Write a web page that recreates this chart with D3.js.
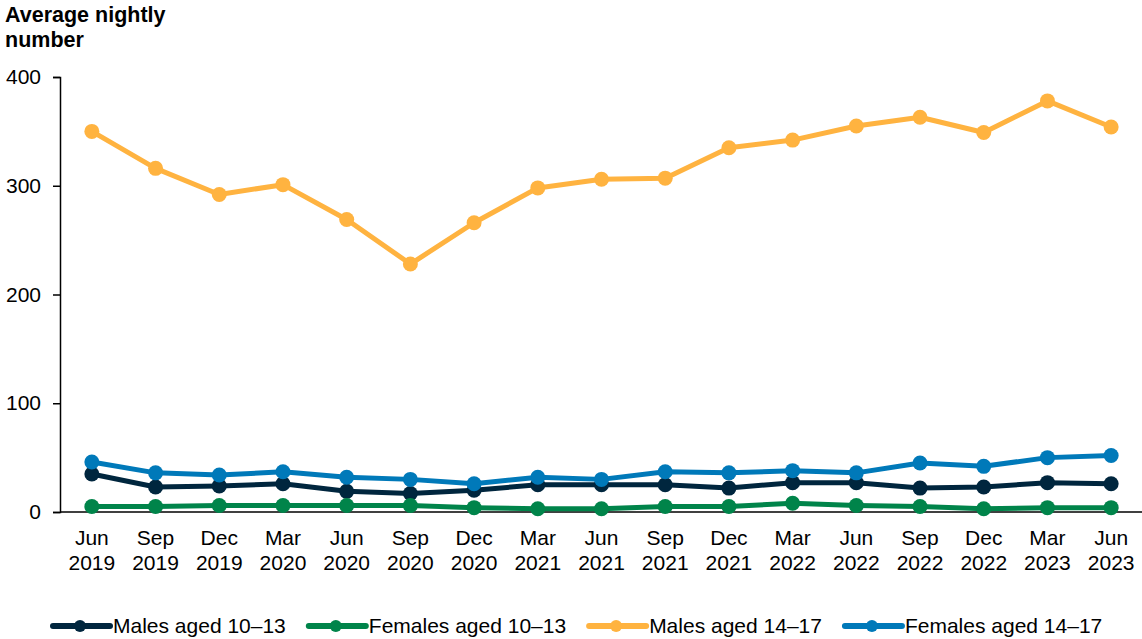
<!DOCTYPE html>
<html>
<head>
<meta charset="utf-8">
<script src="https://cdn.jsdelivr.net/npm/d3@7"></script>
<style>
  body { margin: 0; background: #fff; }
  svg { display: block; font-family: "Liberation Sans", Arial, sans-serif; }
</style>
</head>
<body>
<div id="chart"></div>
<script>
// ---------------- data ----------------
const quarters = ["Jun", "Sep", "Dec", "Mar", "Jun", "Sep", "Dec", "Mar", "Jun", "Sep", "Dec", "Mar", "Jun", "Sep", "Dec", "Mar", "Jun"];
const years = ["2019", "2019", "2019", "2020", "2020", "2020", "2020", "2021", "2021", "2021", "2021", "2022", "2022", "2022", "2022", "2023", "2023"];

const males1013   = [35, 23, 24, 26, 19, 17, 20, 25, 25, 25, 22, 27, 27, 22, 23, 27, 26];
const females1013 = [5, 5, 6, 6, 6, 6, 4, 3, 3, 5, 5, 8, 6, 5, 3, 4, 4];
const males1417   = [350, 316, 292, 301, 269, 228, 266, 298, 306, 307, 335, 342, 355, 363, 349, 378, 354];
const females1417 = [46, 36, 34, 37, 32, 30, 26, 32, 30, 37, 36, 38, 36, 45, 42, 50, 52];

const yTicks = [0, 100, 200, 300, 400];

const seriesList = [
  { name: "Males aged 10\u201313", values: males1013, color: "#00263e" },
  { name: "Females aged 10\u201313", values: females1013, color: "#00844a" },
  { name: "Males aged 14\u201317", values: males1417, color: "#ffb340" },
  { name: "Females aged 14\u201317", values: females1417, color: "#0079b9" }
];

// ---------------- layout ----------------
const width = 1142, height = 639;
const svg = d3.select("#chart").append("svg")
  .attr("width", width)
  .attr("height", height);

const keys = d3.range(quarters.length);

const x = d3.scalePoint()
  .domain(keys)
  .range([60, 1143])
  .padding(0.5);

const y = d3.scaleLinear()
  .domain([0, 400])
  .range([512, 77]);

// title
const title = svg.append("text")
  .attr("x", 5)
  .attr("font-size", 21.5)
  .attr("font-weight", "bold")
  .attr("fill", "#000");
title.append("tspan").attr("x", 5).attr("y", 22).text("Average nightly");
title.append("tspan").attr("x", 5).attr("y", 47).text("number");

// y axis
const yAxis = svg.append("g")
  .attr("transform", "translate(60,0)")
  .call(d3.axisLeft(y).tickValues(yTicks).tickSize(7).tickPadding(12));
yAxis.select(".domain").attr("stroke", "#000").attr("stroke-width", 1.5);
yAxis.selectAll(".tick line").attr("stroke", "#000").attr("stroke-width", 1.5);
yAxis.selectAll(".tick text")
  .attr("font-size", 21)
  .attr("fill", "#000")
  .style("font-family", "Liberation Sans, Arial, sans-serif");

// x axis
svg.append("line")
  .attr("x1", 60).attr("x2", width)
  .attr("y1", y(0)).attr("y2", y(0))
  .attr("stroke", "#000")
  .attr("stroke-width", 1.5);

const xLabels = svg.append("g")
  .selectAll("text")
  .data(keys)
  .join("text")
  .attr("text-anchor", "middle")
  .attr("font-size", 21)
  .attr("fill", "#000");
xLabels.append("tspan").attr("x", d => x(d)).attr("y", 545).text(d => quarters[d]);
xLabels.append("tspan").attr("x", d => x(d)).attr("y", 570).text(d => years[d]);

// ---------------- lines ----------------
const line = d3.line()
  .x((d, i) => x(i))
  .y(d => y(d));

const seriesG = svg.append("g")
  .selectAll("g")
  .data(seriesList)
  .join("g");

seriesG.append("path")
  .attr("d", d => line(d.values))
  .attr("fill", "none")
  .attr("stroke", d => d.color)
  .attr("stroke-width", 5)
  .attr("stroke-linejoin", "round");

seriesG.selectAll("circle")
  .data(d => d.values.map(v => ({ v, color: d.color })))
  .join("circle")
  .attr("cx", (d, i) => x(i))
  .attr("cy", d => y(d.v))
  .attr("r", 7.5)
  .attr("fill", d => d.color);

// ---------------- legend ----------------
const legend = svg.append("g").attr("transform", "translate(53,626)");
let lx = 0;
seriesList.forEach(s => {
  const g = legend.append("g").attr("transform", `translate(${lx},0)`);
  g.append("line")
    .attr("x1", 0).attr("x2", 57)
    .attr("stroke", s.color)
    .attr("stroke-width", 6)
    .attr("stroke-linecap", "round");
  g.append("circle").attr("cx", 27).attr("r", 6).attr("fill", s.color);
  const t = g.append("text")
    .attr("x", 60)
    .attr("dy", "0.35em")
    .attr("font-size", 21)
    .attr("fill", "#000")
    .text(s.name);
  lx += 60 + t.node().getComputedTextLength() + 23;
});
</script>
</body>
</html>
